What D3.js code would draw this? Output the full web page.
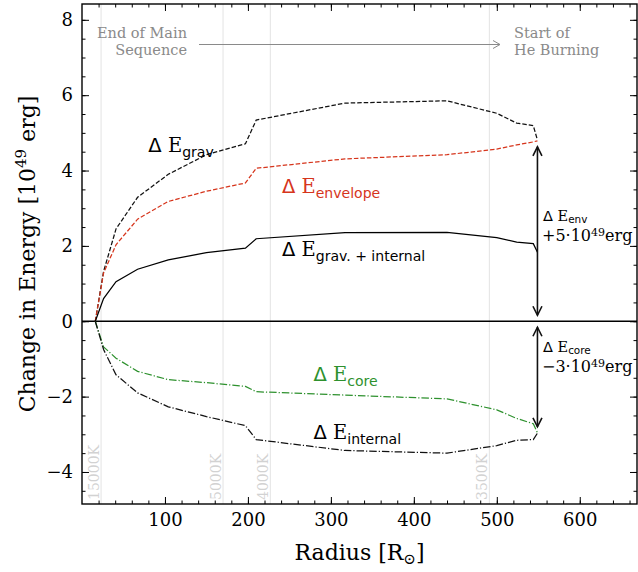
<!DOCTYPE html>
<html>
<head>
<meta charset="utf-8">
<script src="https://cdn.jsdelivr.net/npm/d3@7"></script>
<style>
  body { margin: 0; background: #fff; }
  svg { display: block; }
</style>
</head>
<body>
<div id="chart"></div>
<script>
// CONSTANTS
const WIDTH = 638;
const HEIGHT = 572;
const SERIF = "'DejaVu Serif', serif";
const SANS = "'DejaVu Sans', sans-serif";

// data
const radius = [16, 26, 41, 67, 104, 150, 197, 210, 317, 440, 500, 524, 544, 549];
const eGrav = [0, 1.32, 2.45, 3.29, 3.90, 4.42, 4.71, 5.34, 5.79, 5.85, 5.52, 5.26, 5.19, 4.81];
const eEnvelope = [0, 1.28, 2.03, 2.71, 3.18, 3.45, 3.67, 4.06, 4.31, 4.42, 4.57, 4.68, 4.76, 4.79];
const eGravInternal = [0, 0.60, 1.05, 1.38, 1.63, 1.82, 1.94, 2.19, 2.35, 2.36, 2.22, 2.10, 2.06, 1.83];
const eCore = [0, -0.68, -0.98, -1.33, -1.55, -1.63, -1.73, -1.87, -1.96, -2.06, -2.35, -2.58, -2.72, -2.96];
const eInternal = [0, -0.75, -1.42, -1.90, -2.27, -2.53, -2.77, -3.14, -3.43, -3.50, -3.30, -3.16, -3.14, -2.97];

const tempRadius = [23, 170, 227, 491];
const tempLabels = ["15000K", "5000K", "4000K", "3500K"];

const xTicks = [100, 200, 300, 400, 500, 600];
const yTicks = [-4, -2, 0, 2, 4, 6, 8];

const envChange = 5;   // 10^49 erg
const coreChange = -3;

const svg = d3.select("#chart").append("svg")
  .attr("width", WIDTH)
  .attr("height", HEIGHT);

const x = d3.scaleLinear().domain([0, 669]).range([82, 637]);
const y = d3.scaleLinear().domain([-4.85, 8.42]).range([504, 4]);

// temperature guide lines
svg.append("g").selectAll("line")
  .data(tempRadius)
  .enter().append("line")
  .attr("x1", d => x(d)).attr("x2", d => x(d))
  .attr("y1", y.range()[1]).attr("y2", y.range()[0])
  .attr("stroke", "#e3e3e3")
  .attr("stroke-width", 1);

svg.append("g").selectAll("text")
  .data(tempRadius)
  .enter().append("text")
  .attr("transform", d => `translate(${x(d) - 2},${y.range()[0] - 4}) rotate(-90)`)
  .attr("font-family", SERIF)
  .attr("font-size", 14)
  .attr("fill", "#d2d2d2")
  .text((d, i) => tempLabels[i]);

// zero line
svg.append("line")
  .attr("x1", 82).attr("x2", 637)
  .attr("y1", y(0)).attr("y2", y(0))
  .attr("stroke", "#000").attr("stroke-width", 1.4);

// curves
const lineGen = vals => d3.line()
  .x((d, i) => x(radius[i]))
  .y(d => y(d))(vals);

const series = [
  { vals: eGrav, color: "#111", dash: "4.5,2" },
  { vals: eEnvelope, color: "#d6351c", dash: "4.5,2" },
  { vals: eGravInternal, color: "#000", dash: null },
  { vals: eCore, color: "#2e912e", dash: "7.5,2,1.2,2" },
  { vals: eInternal, color: "#111", dash: "7.5,2,1.2,2" }
];

svg.append("g").selectAll("path")
  .data(series)
  .enter().append("path")
  .attr("d", d => lineGen(d.vals))
  .attr("fill", "none")
  .attr("stroke", d => d.color)
  .attr("stroke-width", 1.25)
  .attr("stroke-dasharray", d => d.dash);

// axes (ticks pointing inward, on all sides)
const xMinor = d3.range(20, 669, 20);
const yMinor = d3.range(-4.5, 8.5, 0.5);

const addAxis = (axis, transform) => svg.append("g")
  .attr("transform", transform)
  .call(axis)
  .call(g => g.select(".domain").remove())
  .call(g => g.selectAll("line").attr("stroke", "#000").attr("stroke-width", 1))
  .call(g => g.selectAll("text").attr("font-family", SERIF).attr("font-size", 18).attr("fill", "#000"));

addAxis(d3.axisBottom(x).tickValues(xMinor).tickSize(-3.5).tickFormat(""), `translate(0,${504})`);
addAxis(d3.axisBottom(x).tickValues(xTicks).tickSize(-7).tickPadding(9).tickFormat(d3.format("d")), `translate(0,${504})`);
addAxis(d3.axisTop(x).tickValues(xMinor).tickSize(-3.5).tickFormat(""), `translate(0,${4})`);
addAxis(d3.axisTop(x).tickValues(xTicks).tickSize(-7).tickFormat(""), `translate(0,${4})`);
addAxis(d3.axisLeft(y).tickValues(yMinor).tickSize(-3.5).tickFormat(""), `translate(82,0)`);
addAxis(d3.axisLeft(y).tickValues(yTicks).tickSize(-7).tickPadding(9).tickFormat(d => d < 0 ? "\u2212" + Math.abs(d) : d), `translate(82,0)`);
addAxis(d3.axisRight(y).tickValues(yMinor).tickSize(-3.5).tickFormat(""), `translate(637,0)`);
addAxis(d3.axisRight(y).tickValues(yTicks).tickSize(-7).tickFormat(""), `translate(637,0)`);

// frame
svg.append("rect")
  .attr("x", 82).attr("y", 4)
  .attr("width", 555).attr("height", 500)
  .attr("fill", "none")
  .attr("stroke", "#000")
  .attr("stroke-width", 1.4);

// axis labels
svg.append("text")
  .attr("x", 359.5).attr("y", 560)
  .attr("text-anchor", "middle")
  .attr("font-family", SERIF).attr("font-size", 22)
  .call(t => {
    t.append("tspan").text("Radius [R");
    t.append("tspan").attr("font-size", 15).attr("dy", 4).text("\u2299");
    t.append("tspan").attr("dy", -4).text("]");
  });

svg.append("text")
  .attr("transform", `translate(35,254) rotate(-90)`)
  .attr("text-anchor", "middle")
  .attr("font-family", SERIF).attr("font-size", 22)
  .call(t => {
    t.append("tspan").text("Change in Energy [10");
    t.append("tspan").attr("font-size", 15).attr("dy", -9).text("49");
    t.append("tspan").attr("dy", 9).text(" erg]");
  });

// mathtext-like labels
const deltaLabel = (px, py, sub, color, size, drop = 0.25) => {
  const t = svg.append("text")
    .attr("x", px).attr("y", py)
    .attr("fill", color)
    .attr("font-size", size);
  t.append("tspan").attr("font-family", SANS).text("\u0394 ");
  t.append("tspan").attr("font-family", SERIF).text("E");
  t.append("tspan").attr("font-family", SANS)
    .attr("font-size", size * 0.72)
    .attr("dy", size * drop)
    .text(sub);
  return t;
};

deltaLabel(x(80), y(4.49), "grav", "#000", 19.5);
deltaLabel(x(241), y(3.4), "envelope", "#d6351c", 19.5);
deltaLabel(x(241), y(1.73), "grav. + internal", "#000", 19.5);
deltaLabel(x(279), y(-1.58), "core", "#2e912e", 19.5);
deltaLabel(x(279), y(-3.13), "internal", "#000", 19.5);

// double-headed arrows for envelope and core changes
const endR = radius[radius.length - 1];
const arrow = (v0, v1) => {
  const ax = x(endR);
  const ya = y(v0), yb = y(v1);
  const dir = yb > ya ? 1 : -1;
  const y0 = ya + dir * 6, y1 = yb - dir * 6;
  const g = svg.append("g").attr("stroke", "#111").attr("stroke-width", 1.6).attr("fill", "none");
  g.append("line").attr("x1", ax).attr("x2", ax).attr("y1", y0).attr("y2", y1);
  g.append("path").attr("d", `M${ax - 4.5},${y0 + dir * 9}L${ax},${y0}L${ax + 4.5},${y0 + dir * 9}`);
  g.append("path").attr("d", `M${ax - 4.5},${y1 - dir * 9}L${ax},${y1}L${ax + 4.5},${y1 - dir * 9}`);
};
arrow(eEnvelope[eEnvelope.length - 1], 0);
arrow(0, eCore[eCore.length - 1]);

const energyLabel = (py, sub, value) => {
  deltaLabel(543, py, sub, "#000", 14.5, 0.15);
  const t = svg.append("text")
    .attr("x", 542).attr("y", py + 20)
    .attr("font-family", SERIF).attr("font-size", 16).attr("fill", "#000");
  t.append("tspan").text((value > 0 ? "+" : "\u2212") + Math.abs(value) + "\u00b710");
  t.append("tspan").attr("font-size", 11).attr("dy", -5).text("49");
  t.append("tspan").attr("dy", 5).text("erg");
};
energyLabel(221, "env", envChange);
energyLabel(352, "core", coreChange);

// evolution annotation at the top
const grey = "#8a8a8a";
const topNote = svg.append("g").attr("font-family", SERIF).attr("font-size", 14.5).attr("fill", grey);
topNote.append("text").attr("x", 187).attr("y", 38).attr("text-anchor", "end").text("End of Main");
topNote.append("text").attr("x", 187).attr("y", 55).attr("text-anchor", "end").text("Sequence");
topNote.append("text").attr("x", 514).attr("y", 38).text("Start of");
topNote.append("text").attr("x", 514).attr("y", 55).text("He Burning");

svg.append("path")
  .attr("d", "M199,44.5L500,44.5M493,40.5L500,44.5L493,48.5")
  .attr("fill", "none")
  .attr("stroke", grey)
  .attr("stroke-width", 1);
</script>
</body>
</html>
